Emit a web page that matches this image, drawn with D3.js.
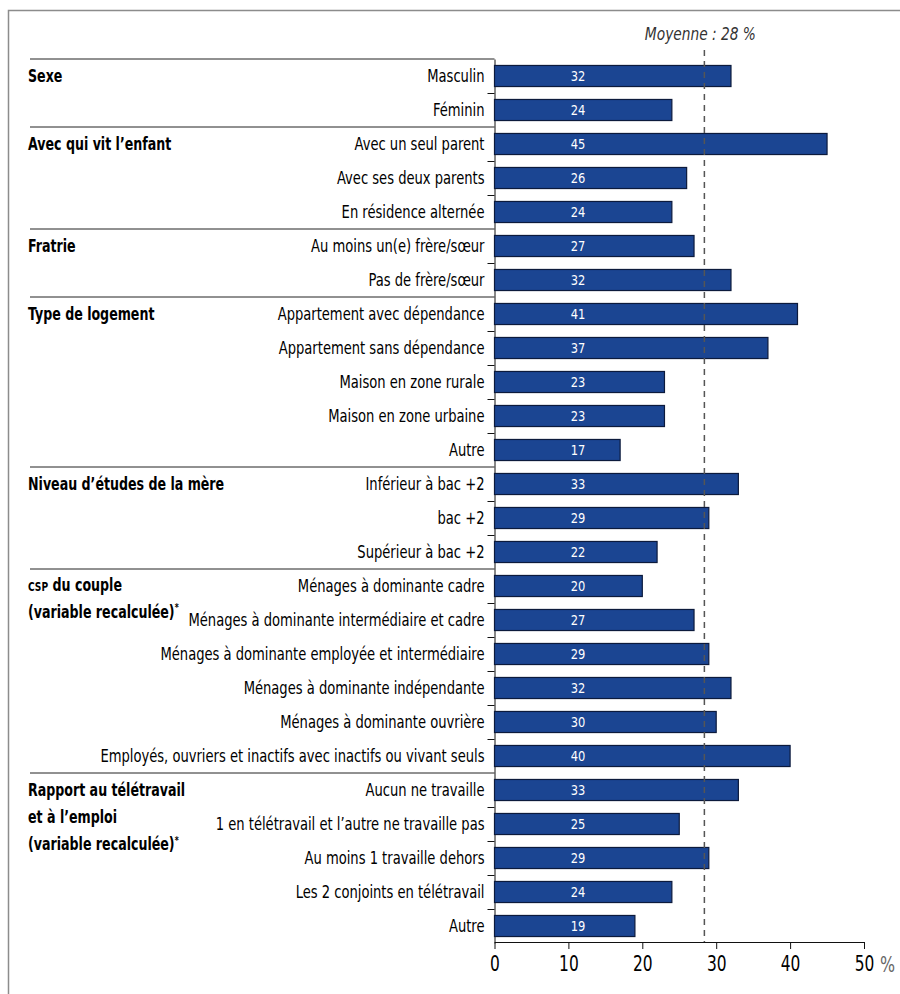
<!DOCTYPE html>
<html lang="fr">
<head>
<meta charset="UTF-8">
<title>Part des enfants</title>
<style>
  body { margin: 0; background: #fff; }
  svg { display: block; font-family: 'Liberation Sans Narrow', 'DejaVu Sans Condensed', 'DejaVu Sans', sans-serif; font-stretch: condensed; }
  .cat { font-size: 18px; fill: #000; }
  .grp { font-size: 18px; fill: #000; font-weight: bold; }
  .val { font-size: 14.5px; fill: #fff; }
  .axisX text { font-size: 22px; fill: #000; font-family: 'Liberation Sans Narrow', 'DejaVu Sans Condensed', 'DejaVu Sans', sans-serif; }
  .axisX path, .axisX line, .axisY path, .axisY line { stroke: #111; }
</style>
</head>
<body>
<div id="chart"></div>
<script src="https://cdnjs.cloudflare.com/ajax/libs/d3/7.8.5/d3.min.js"></script>
<script>
// données
const categories = [
  'Masculin', 'Féminin',
  'Avec un seul parent', 'Avec ses deux parents', 'En résidence alternée',
  'Au moins un(e) frère/sœur', 'Pas de frère/sœur',
  'Appartement avec dépendance', 'Appartement sans dépendance', 'Maison en zone rurale', 'Maison en zone urbaine', 'Autre',
  'Inférieur à bac +2', 'bac +2', 'Supérieur à bac +2',
  'Ménages à dominante cadre', 'Ménages à dominante intermédiaire et cadre', 'Ménages à dominante employée et intermédiaire',
  'Ménages à dominante indépendante', 'Ménages à dominante ouvrière', 'Employés, ouvriers et inactifs avec inactifs ou vivant seuls',
  'Aucun ne travaille', '1 en télétravail et l’autre ne travaille pas', 'Au moins 1 travaille dehors', 'Les 2 conjoints en télétravail', 'Autre'
];
const values = [32, 24, 45, 26, 24, 27, 32, 41, 37, 23, 23, 17, 33, 29, 22, 20, 27, 29, 32, 30, 40, 33, 25, 29, 24, 19];
const groupNames = [
  ['Sexe'],
  ['Avec qui vit l’enfant'],
  ['Fratrie'],
  ['Type de logement'],
  ['Niveau d’études de la mère'],
  ['CSP du couple', '(variable recalculée)*'],
  ['Rapport au télétravail', 'et à l’emploi', '(variable recalculée)*']
];
const groupSizes = [2, 3, 2, 5, 3, 6, 5];
const xTicks = [0, 10, 20, 30, 40, 50];
const meanValue = 28.4;

const W = 900, H = 994;
const plotLeft = 494.5, plotRight = 864, plotTop = 59, plotBottom = 943;
const n = categories.length;
// la police d'origine est très étroite : on resserre horizontalement
const narrow = 0.81;

const svg = d3.select('#chart').append('svg')
  .attr('width', W).attr('height', H);

// cadre (coupé à droite et en bas)
svg.append('rect')
  .attr('x', 8.5).attr('y', 10.5)
  .attr('width', 1000).attr('height', 1100)
  .attr('fill', 'none').attr('stroke', '#8c8c8c').attr('stroke-width', 1.5);

const x = d3.scaleLinear().domain([0, 50]).range([plotLeft, plotRight]);
const y = d3.scaleBand().domain(d3.range(n)).range([plotTop, plotBottom])
  .paddingInner(0.38).paddingOuter(0.19);
const yEdge = d3.scaleLinear().domain([0, n]).range([plotTop, plotBottom]);
const rowMid = i => y(i) + y.bandwidth() / 2;

// limites de groupes
const groupStarts = [];
let acc = 0;
groupSizes.forEach(s => { groupStarts.push(acc); acc += s; });

// séparateurs de groupes
svg.append('g').selectAll('line')
  .data(groupStarts)
  .enter().append('line')
  .attr('x1', 30).attr('x2', x(0))
  .attr('y1', d => yEdge(d)).attr('y2', d => yEdge(d))
  .attr('stroke', '#222').attr('stroke-width', 1);

// axe Y : ticks entre les lignes d'un même groupe
const rowTicks = d3.range(1, n).filter(i => groupStarts.indexOf(i) < 0);
svg.append('g')
  .attr('class', 'axisY')
  .attr('transform', 'translate(' + x(0) + ',0)')
  .call(d3.axisLeft(yEdge).tickValues(rowTicks).tickSize(7).tickSizeOuter(0).tickFormat(''));

// barres
svg.append('g').selectAll('rect')
  .data(values)
  .enter().append('rect')
  .attr('x', x(0))
  .attr('y', (d, i) => y(i))
  .attr('width', d => x(d) - x(0))
  .attr('height', y.bandwidth())
  .attr('fill', '#1b4592')
  .attr('stroke', '#0c1a3c')
  .attr('stroke-width', 1.2);

// valeurs dans les barres
svg.append('g').selectAll('text')
  .data(values)
  .enter().append('text')
  .attr('class', 'val')
  .attr('transform', (d, i) => 'translate(' + x(11.3) + ',' + rowMid(i) + ') scale(0.88,1)')
  .attr('dy', '0.36em')
  .attr('text-anchor', 'middle')
  .text(d => d);

// libellés des catégories
svg.append('g').selectAll('text')
  .data(categories)
  .enter().append('text')
  .attr('class', 'cat')
  .attr('transform', (d, i) => 'translate(' + (x(0) - 10) + ',' + rowMid(i) + ') scale(' + narrow + ',1)')
  .attr('dy', '0.36em')
  .attr('text-anchor', 'end')
  .text(d => d);

// libellés des groupes
const grp = svg.append('g').selectAll('text')
  .data(groupNames)
  .enter().append('text')
  .attr('class', 'grp')
  .attr('transform', (d, i) => 'translate(28,' + rowMid(groupStarts[i]) + ') scale(0.78,1)');

grp.each(function (lines) {
  const t = d3.select(this);
  lines.forEach((line, k) => {
    let rest = line;
    let first = true;
    const addSpan = (txt, opts) => {
      const s = t.append('tspan').text(txt);
      if (first) { s.attr('x', 0).attr('dy', k === 0 ? '0.36em' : 27); first = false; }
      if (opts) Object.keys(opts).forEach(key => s.attr(key, opts[key]));
      return s;
    };
    if (rest.startsWith('CSP')) {
      addSpan('CSP', { 'font-size': 13 });
      rest = rest.slice(3);
    }
    if (rest.endsWith('*')) {
      addSpan(rest.slice(0, -1));
      addSpan('*', { 'font-size': 11, 'baseline-shift': '7' });
    } else {
      addSpan(rest);
    }
  });
});

// axe X
const gx = svg.append('g')
  .attr('class', 'axisX')
  .attr('transform', 'translate(0,' + (plotBottom - 1) + ')')
  .call(d3.axisBottom(x).tickValues(xTicks).tickSize(7).tickSizeOuter(0).tickPadding(6));
gx.select('.domain').attr('stroke-width', 1.2);
gx.selectAll('.tick text').attr('transform', 'scale(0.78,1)');

svg.append('text')
  .attr('transform', 'translate(' + (x(50) + 16) + ',' + (plotBottom + 29) + ') scale(0.8,1)')
  .attr('font-size', 22)
  .attr('fill', '#666')
  .text('%');

// ligne de moyenne
svg.append('line')
  .attr('x1', x(meanValue)).attr('x2', x(meanValue))
  .attr('y1', 50).attr('y2', plotBottom - 1)
  .attr('stroke', '#555').attr('stroke-width', 1.5)
  .attr('stroke-dasharray', '6,5');

svg.append('text')
  .attr('transform', 'translate(' + (x(meanValue) - 4) + ',40) scale(0.85,1)')
  .attr('text-anchor', 'middle')
  .attr('font-size', 18)
  .attr('font-style', 'italic')
  .attr('fill', '#333')
  .text('Moyenne : ' + Math.round(meanValue) + ' %');
</script>
</body>
</html>
